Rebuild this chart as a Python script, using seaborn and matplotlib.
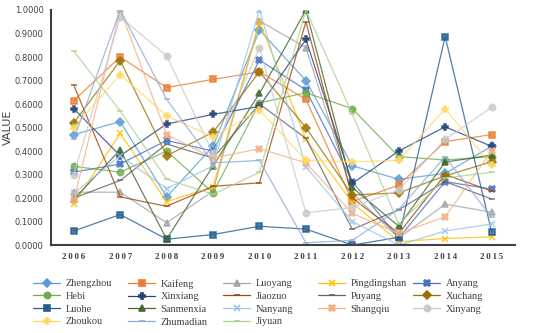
import numpy as np
import pandas as pd
import matplotlib
matplotlib.use("Agg")
import matplotlib.pyplot as plt
import seaborn as sns
from matplotlib.lines import Line2D

years = [2006, 2007, 2008, 2009, 2010, 2011, 2012, 2013, 2014, 2015]

cities = ["Zhengzhou", "Kaifeng", "Luoyang", "Pingdingshan", "Anyang",
          "Hebi", "Xinxiang", "Jiaozuo", "Puyang", "Xuchang",
          "Luohe", "Sanmenxia", "Nanyang", "Shangqiu", "Xinyang",
          "Zhoukou", "Zhumadian", "Jiyuan"]

zhengzhou    = [0.47, 0.525, 0.205, 0.42, 0.915, 0.70, 0.337, 0.28, 0.305, 0.42]
kaifeng      = [0.615, 0.80, 0.67, 0.705, 0.737, 0.62, 0.185, 0.255, 0.44, 0.47]
luoyang      = [0.225, 0.225, 0.095, 0.23, 0.953, 0.84, 0.22, 0.03, 0.174, 0.14]
pingdingshan = [0.175, 0.475, 0.185, 0.248, 0.95, 0.45, 0.18, 0.015, 0.028, 0.035]
anyang       = [0.31, 0.345, 0.445, 0.40, 0.787, 0.66, 0.27, 0.03, 0.27, 0.238]
hebi         = [0.335, 0.31, 0.40, 0.222, 0.605, 0.648, 0.58, 0.376, 0.362, 0.376]
xinxiang     = [0.58, 0.38, 0.515, 0.556, 0.59, 0.875, 0.263, 0.40, 0.503, 0.42]
jiaozuo      = [0.68, 0.205, 0.165, 0.25, 0.265, 0.95, 0.20, 0.05, 0.30, 0.23]
puyang       = [0.20, 0.275, 0.43, 0.37, 0.60, 0.454, 0.067, 0.15, 0.27, 0.196]
xuchang      = [0.52, 0.785, 0.38, 0.48, 0.737, 0.50, 0.213, 0.222, 0.294, 0.355]
luohe        = [0.06, 0.13, 0.025, 0.045, 0.08, 0.068, 0.0, 0.033, 0.887, 0.057]
sanmenxia    = [0.195, 0.405, 0.025, 0.337, 0.645, 1.0, 0.245, 0.08, 0.353, 0.383]
nanyang      = [0.22, 0.38, 0.24, 0.337, 1.0, 0.333, 0.10, 0.0, 0.06, 0.09]
shangqiu     = [0.19, 1.0, 0.47, 0.37, 0.41, 0.35, 0.135, 0.05, 0.12, 0.40]
xinyang      = [0.30, 0.97, 0.805, 0.39, 0.84, 0.137, 0.16, 0.234, 0.45, 0.586]
zhoukou      = [0.50, 0.725, 0.55, 0.46, 0.575, 0.36, 0.355, 0.36, 0.58, 0.34]
zhumadian    = [0.45, 1.0, 0.62, 0.35, 0.36, 0.01, 0.02, 0.152, 0.376, 0.118]
jiyuan       = [0.825, 0.57, 0.28, 0.216, 0.31, 1.0, 0.557, 0.089, 0.285, 0.31]

series = [zhengzhou, kaifeng, luoyang, pingdingshan, anyang, hebi, xinxiang,
          jiaozuo, puyang, xuchang, luohe, sanmenxia, nanyang, shangqiu,
          xinyang, zhoukou, zhumadian, jiyuan]

colors = ["#5B9BD5", "#ED7D31", "#A5A5A5", "#FFC000", "#4472C4", "#70AD47",
          "#264478", "#9E480E", "#636363", "#997300", "#255E91", "#43682B",
          "#9DC3E6", "#F4B183", "#C9C9C9", "#FFD966", "#8FAADC", "#A9D18E"]
markers = ["D", "s", "^", "x", "X", "o", "P", "_", "_", "D",
           "s", "^", "x", "X", "o", "P", "_", "_"]

rows = []
for city, vals in zip(cities, series):
    for yr, v in zip(years, vals):
        rows.append({"year": yr, "city": city, "value": v})
df = pd.DataFrame(rows)

sns.set_style("white")
fig = plt.figure(figsize=(5.5, 3.33), dpi=100)
ax = fig.add_axes([0.092, 0.264, 0.844, 0.706])

for city, c, m in zip(cities, colors, markers):
    sub = df[df["city"] == city]
    sns.lineplot(data=sub, x="year", y="value", color=c, marker=m,
                 linewidth=0.9, markersize=4.5, markeredgewidth=1.2,
                 markeredgecolor=c, alpha=0.8, ax=ax)

ax.set_xlim(2005.5, 2015.5)
ax.set_ylim(0, 1.0)
ax.set_xticks(years)
ax.set_xticklabels(["\u2009".join(str(y)) for y in years], fontsize=6.5,
                   fontweight="bold", family="Liberation Serif", color="#404040")
ax.set_yticks(np.arange(0, 1.01, 0.1))
ax.set_yticklabels([f"{v:.4f}" for v in np.arange(0, 1.01, 0.1)],
                   fontsize=6, color="#404040")
ax.set_xlabel("")
ax.set_ylabel("VALUE", fontsize=8, color="#404040")
ax.yaxis.set_label_coords(-0.082, 0.5)
ax.tick_params(axis="y", length=0, pad=5)
ax.tick_params(axis="x", length=0, pad=6)
for s in ["top", "right"]:
    ax.spines[s].set_visible(False)
for s in ["left", "bottom"]:
    ax.spines[s].set_color("#404040")
    ax.spines[s].set_linewidth(1.5)

# legend: 5 fixed-width columns, filled row by row
col_x = [33, 128, 223, 318, 413]
for col in range(5):
    idx = [r * 5 + col for r in range(4) if r * 5 + col < len(cities)]
    hs = [Line2D([0], [0], color=colors[i], marker=markers[i], markersize=4.5,
                 lw=0.9, markeredgewidth=1.2) for i in idx]
    fig.legend(hs, [cities[i] for i in idx], loc="upper left",
               bbox_to_anchor=((col_x[col] - 4) / 550, 0.175),
               frameon=False, handlelength=2.6, handletextpad=0.5,
               labelspacing=0.33, borderaxespad=0,
               prop={"family": "Liberation Serif", "size": 7.5},
               labelcolor="#404040")

fig.savefig("out.png", dpi=100)
